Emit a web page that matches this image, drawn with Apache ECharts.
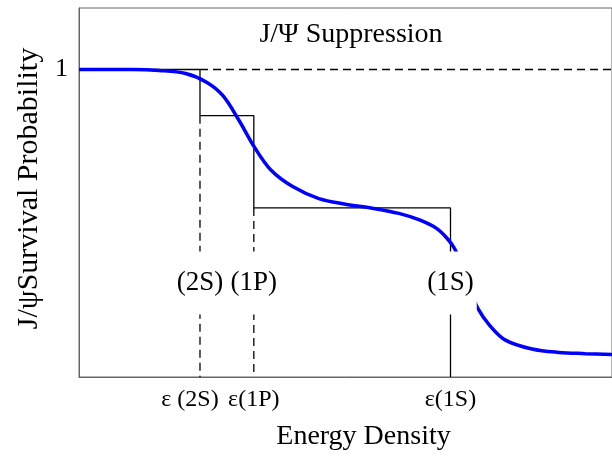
<!DOCTYPE html>
<html>
<head>
<meta charset="utf-8">
<script src="https://cdn.jsdelivr.net/npm/echarts@6/dist/echarts.min.js"></script>
<style>
  html, body { margin: 0; padding: 0; background: #fff; }
  #chart { width: 612px; height: 460px; }
</style>
</head>
<body>
<div id="chart"></div>
<script>
// Dissociation thresholds (energy density, arbitrary units)
const thresholdNames = ['2S', '1P', '1S'];
const thresholdEnergy = [0.227, 0.328, 0.697];
const tickLabels = ['ε (2S)', 'ε(1P)', 'ε(1S)'];

// Survival fraction left after each threshold is passed
const stepLevels = [1.0, 0.85, 0.55, 0.0];

// Smooth survival probability curve: [energy density, probability]
const curveEnergy = [0, 0.1, 0.15, 0.2, 0.24, 0.27, 0.3, 0.33, 0.36, 0.4, 0.45, 0.5,
  0.55, 0.6, 0.64, 0.67, 0.69, 0.705, 0.72, 0.735, 0.748, 0.77, 0.8, 0.85, 0.9, 0.95, 1.0];
const curveProb = [1.0, 1.0, 0.997, 0.987, 0.958, 0.915, 0.835, 0.745, 0.673, 0.62, 0.58, 0.562,
  0.549, 0.532, 0.51, 0.484, 0.452, 0.416, 0.35, 0.28, 0.224, 0.169, 0.12, 0.091, 0.08, 0.076, 0.073];

// Height at which the state names sit
const stateLabelProb = [0.306, 0.306, 0.306];

const serif = '"Liberation Serif", "Times New Roman", serif';

// Step function built from thresholds and levels
const stepData = [[0, stepLevels[0]]];
thresholdEnergy.forEach((e, i) => {
  stepData.push([e, stepLevels[i]]);
  stepData.push([e, stepLevels[i + 1]]);
});

const curveData = curveEnergy.map((e, i) => [e, curveProb[i]]);

const dashStyle = { color: '#000', width: 1.3, type: [8, 5] };

const chart = echarts.init(document.getElementById('chart'), null, { renderer: 'canvas' });
chart.setOption({
  animation: false,
  backgroundColor: '#fff',
  title: {
    text: 'J/Ψ Suppression',
    left: 346,
    top: 16,
    textAlign: 'center',
    textStyle: { fontFamily: serif, fontSize: 28, fontWeight: 'normal', color: '#000' }
  },
  grid: { left: 79, right: -1, top: 8, bottom: 83, show: true, borderColor: '#666', borderWidth: 1 },
  xAxis: {
    type: 'value', min: 0, max: 1,
    name: 'Energy Density', nameLocation: 'middle', nameGap: 46,
    nameTextStyle: { fontFamily: serif, fontSize: 28, color: '#000', padding: [0, 0, 0, 36] },
    axisLine: { show: true, lineStyle: { color: '#666', width: 1 } },
    axisTick: { show: false },
    splitLine: { show: false },
    axisLabel: {
      customValues: thresholdEnergy,
      hideOverlap: false,
      margin: 11,
      fontFamily: serif, fontSize: 24, color: '#000',
      formatter: v => {
        const i = thresholdEnergy.findIndex(e => Math.abs(e - v) < 1e-6);
        if (i < 0) return '';
        return i === 0 ? '{shift|' + tickLabels[i] + '}' : tickLabels[i];
      },
      rich: {
        shift: { fontFamily: serif, fontSize: 24, color: '#000', padding: [0, 20, 0, 0] }
      }
    }
  },
  yAxis: {
    type: 'value', min: 0, max: 1.2,
    name: 'J/ψSurvival Probability', nameLocation: 'middle', nameGap: 30, nameRotate: 90,
    nameTextStyle: { fontFamily: serif, fontSize: 30, color: '#000', padding: [0, 0, 0, 8] },
    axisLine: { show: true, lineStyle: { color: '#666', width: 1 } },
    axisTick: { show: false },
    splitLine: { show: false },
    axisLabel: {
      customValues: [1],
      margin: 11,
      fontFamily: serif, fontSize: 26, color: '#000'
    }
  },
  series: [
    {
      name: 'unity', type: 'line', z: 2, symbol: 'none', silent: true,
      lineStyle: dashStyle,
      data: [[thresholdEnergy[0], 1], [1, 1]]
    },
    {
      name: 'drop2S', type: 'line', z: 2, symbol: 'none', silent: true,
      lineStyle: dashStyle,
      data: [[thresholdEnergy[0], stepLevels[1]], [thresholdEnergy[0], 0]]
    },
    {
      name: 'drop1P', type: 'line', z: 2, symbol: 'none', silent: true,
      lineStyle: dashStyle,
      data: [[thresholdEnergy[1], stepLevels[2]], [thresholdEnergy[1], 0]]
    },
    {
      name: 'steps', type: 'line', z: 3, symbol: 'none', silent: true,
      lineStyle: { color: '#000', width: 1.3 },
      data: stepData
    },
    {
      name: 'survival', type: 'line', z: 4, symbol: 'none', silent: true,
      smooth: 0.35,
      lineStyle: { color: '#0000ff', width: 3.5 },
      data: curveData
    },
    {
      name: 'states', type: 'scatter', z: 10, silent: true,
      symbolSize: 1,
      itemStyle: { color: 'rgba(255,255,255,0)', opacity: 1 },
      emphasis: { disabled: true },
      label: {
        show: true, position: 'inside',
        formatter: p => '(' + thresholdNames[p.dataIndex] + ')',
        fontFamily: serif, fontSize: 27, color: '#000',
        backgroundColor: '#fff', padding: [18, 3, 18, 3]
      },
      labelLayout: { hideOverlap: false },
      data: thresholdEnergy.map((e, i) => [e, stateLabelProb[i]])
    }
  ]
});
</script>
</body>
</html>
